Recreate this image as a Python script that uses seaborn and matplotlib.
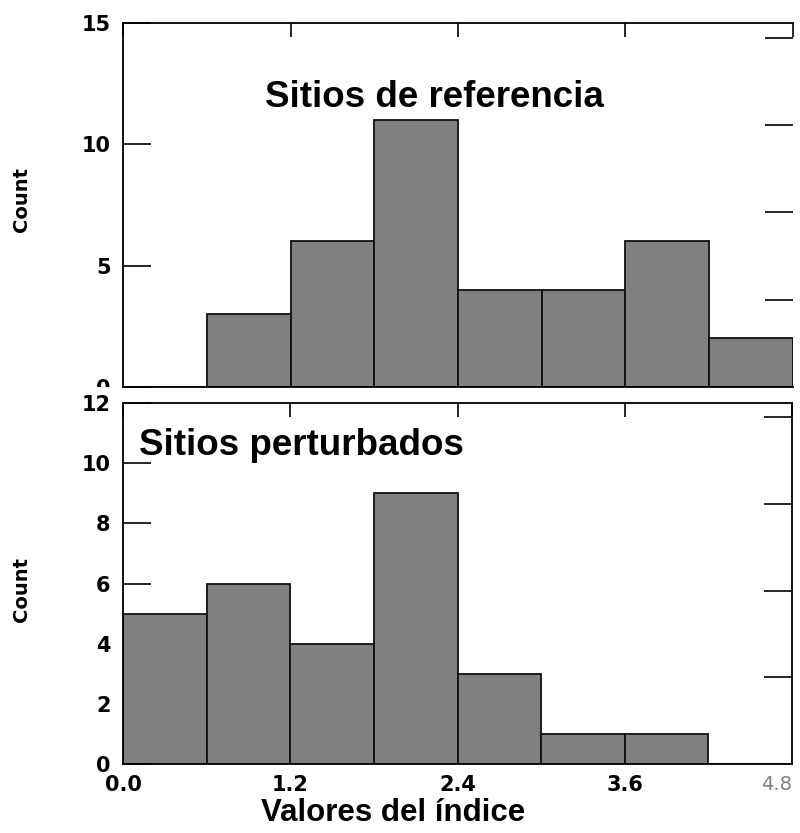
import numpy as np
import pandas as pd
import seaborn as sns
import matplotlib.pyplot as plt
from matplotlib.transforms import Bbox, TransformedBbox

# Histogram data (bin width 0.6)
bin_edges = [0.0, 0.6, 1.2, 1.8, 2.4, 3.0, 3.6, 4.2, 4.8]
ref_counts = [0, 3, 6, 11, 4, 4, 6, 2]     # Sitios de referencia
pert_counts = [5, 6, 4, 9, 3, 1, 1, 0]     # Sitios perturbados
x_ticks = [0.0, 1.2, 2.4, 3.6, 4.8]
x_ticklabels = ["0.0", "1.2", "2.4", "3.6", "4.8"]

sns.set_theme(style="white")
plt.rcParams["font.family"] = ["DejaVu Sans"]
plt.rcParams["axes.linewidth"] = 1.3
plt.rcParams["text.color"] = "black"
plt.rcParams["xtick.color"] = "black"
plt.rcParams["ytick.color"] = "black"
plt.rcParams["xtick.labelcolor"] = "black"
plt.rcParams["ytick.labelcolor"] = "black"

fig = plt.figure(figsize=(8.0, 8.33), dpi=100)
ax_top = fig.add_axes([0.154, 0.5354, 0.837, 0.437])
ax_bot = fig.add_axes([0.154, 0.0828, 0.836, 0.4334])

centers = [(a + b) / 2 for a, b in zip(bin_edges[:-1], bin_edges[1:])]
df_ref = pd.DataFrame({"x": centers, "n": ref_counts})
df_pert = pd.DataFrame({"x": centers, "n": pert_counts})

bar_kw = dict(bins=bin_edges, color="#808080", edgecolor="#111111",
              linewidth=1.3, alpha=1)
sns.histplot(data=df_ref, x="x", weights="n", ax=ax_top, **bar_kw)
sns.histplot(data=df_pert, x="x", weights="n", ax=ax_bot, **bar_kw)


def style_axes(ax, ymax, yticks, show_right_spine):
    ax.set_xlim(0, 4.8)
    ax.set_ylim(0, ymax)
    ax.set_yticks(yticks)
    ax.set_yticklabels([str(t) for t in yticks])
    ax.set_xlabel(None)
    ax.set_ylabel(None)
    for s in ["left", "top", "bottom"]:
        ax.spines[s].set_color("black")
        ax.spines[s].set_visible(True)
    ax.spines["right"].set_visible(show_right_spine)
    ax.spines["right"].set_color("black")
    ax.tick_params(axis="y", left=True, direction="in", length=20, width=1.2,
                   color="black", labelsize=15, pad=9)
    ax.tick_params(axis="x", bottom=False, top=True, direction="in",
                   length=10, width=1.2, color="black", labelsize=15, pad=8)
    for lab in ax.get_yticklabels():
        lab.set_fontweight("bold")
    # right side ticks (no labels)
    twin = ax.twinx()
    twin.set_ylim(0, 1)
    twin.set_yticks([0.24, 0.48, 0.72, 0.96])
    twin.tick_params(axis="y", right=True, direction="in", length=20,
                     width=1.2, color="black", labelright=False)
    for s in twin.spines.values():
        s.set_visible(False)
    twin.grid(False)
    ax.grid(False)


style_axes(ax_top, 15, [0, 5, 10, 15], show_right_spine=False)
style_axes(ax_bot, 12, [0, 2, 4, 6, 8, 10, 12], show_right_spine=True)

# the "0" of the upper panel is cut off by the lower panel, as in the original
zero_lab = ax_top.yaxis.get_major_ticks()[0].label1
zero_lab.set_clip_box(TransformedBbox(Bbox([[0, 0.5354], [1, 1]]),
                                      fig.transFigure))
zero_lab.set_clip_on(True)

ax_top.set_xticks(x_ticks)
ax_top.tick_params(axis="x", labelbottom=False)
ax_bot.set_xticks(x_ticks)
ax_bot.set_xticklabels(x_ticklabels)
for lab in ax_bot.get_xticklabels():
    lab.set_fontweight("bold")
last = ax_bot.get_xticklabels()[-1]
last.set_fontweight("normal")
last.set_color("#808080")
last.set_fontsize(14)
last.set_horizontalalignment("right")

title_font = ["Liberation Sans", "DejaVu Sans"]
ax_top.text(1.02, 11.95, "Sitios de referencia", fontsize=26.5,
            fontweight="bold", va="center", ha="left", family=title_font)
ax_bot.text(0.11, 10.6, "Sitios perturbados", fontsize=26.5,
            fontweight="bold", va="center", ha="left", family=title_font)

fig.text(0.027, 0.76, "Count", rotation=90, fontsize=14, fontweight="bold",
         ha="center", va="center")
fig.text(0.027, 0.292, "Count", rotation=90, fontsize=14, fontweight="bold",
         ha="center", va="center")
fig.text(0.491, 0.024, "Valores del índice", fontsize=22.5, fontweight="bold",
         ha="center", va="center", family=title_font)

fig.savefig("out.png", dpi=100)
